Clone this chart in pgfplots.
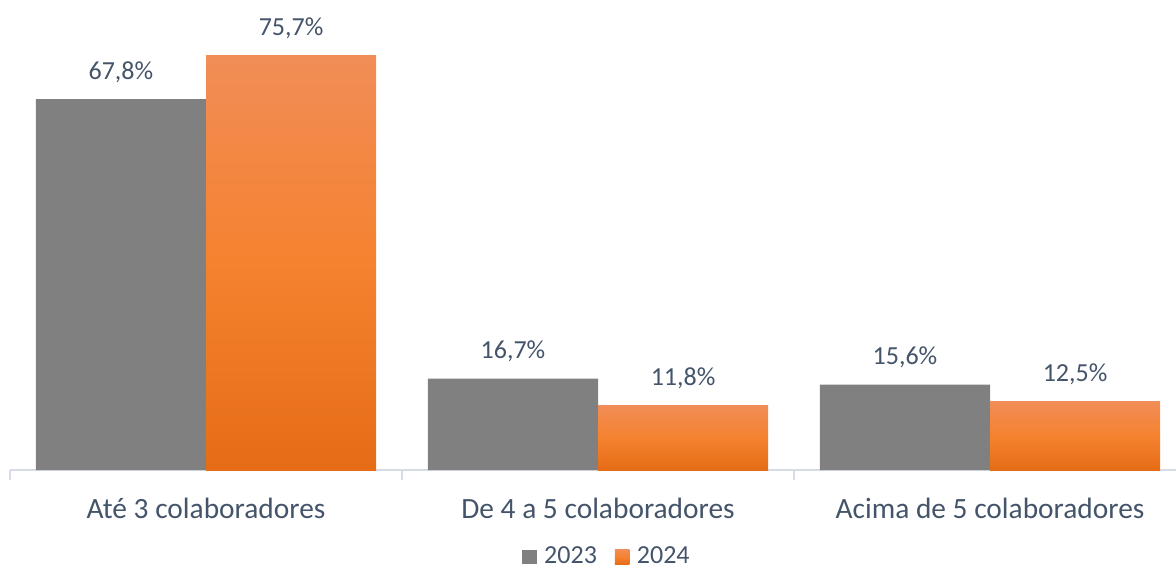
\documentclass[border=0pt]{standalone}
\usepackage{fontspec}
\setmainfont{Carlito}
\usepackage{pgfplots}
\pgfplotsset{compat=1.18}
\definecolor{txt}{HTML}{44546A}
\definecolor{axl}{HTML}{D6DCE5}
\definecolor{gbar}{HTML}{808080}
\definecolor{otop}{HTML}{F18D57}
\definecolor{omid}{HTML}{F5822F}
\definecolor{obot}{HTML}{E66C17}
\pgfdeclareverticalshading{orgrad}{100bp}{color(0bp)=(obot); color(25bp)=(obot); color(50bp)=(omid); color(75bp)=(otop); color(100bp)=(otop)}
\begin{document}
\begin{tikzpicture}
\path[use as bounding box] (-5pt,-49.5pt) rectangle (583pt,235pt);
\begin{axis}[
  scale only axis,
  width=583pt, height=235pt,
  xmin=-0.5, xmax=2.4745,
  ymin=0, ymax=85.92,
  ybar, bar width=0.434,
  axis x line*=bottom,
  axis y line=none,
  axis line style={draw=axl, line width=1.2pt},
  xtick={0,1,2},
  xticklabels={Até 3 colaboradores, De 4 a 5 colaboradores, Acima de 5 colaboradores},
  major tick length=0pt,
  minor xtick={-0.5,0.5,1.5,2.5},
  minor tick length=5pt,
  tick align=outside,
  minor tick style={draw=axl, line width=1pt},
  xticklabel style={font=\fontsize{14.7pt}{17pt}\selectfont, text=txt, anchor=base, yshift=-24pt},
  nodes near coords={\pgfmathprintnumber{\pgfplotspointmeta}\%},
  nodes near coords style={font=\fontsize{13pt}{15pt}\selectfont, text=txt, anchor=base, yshift=10pt,
     /pgf/number format/.cd, use comma, fixed, fixed zerofill, precision=1, assume math mode=true},
  clip=false,
  legend style={at={(0.5128,0)}, anchor=center, yshift=-43.5pt, draw=none, fill=none,
     font=\fontsize{13pt}{15pt}\selectfont, text=txt, legend columns=2,
     nodes={inner ysep=0.3pt},
     /tikz/every even column/.append style={column sep=7pt}},
  legend image code/.code={\path[#1,draw=none] (0pt,-3.7pt) rectangle (7.2pt,3.7pt); \path (9pt,0pt);},
]
\addplot[fill=gbar, draw=none, bar shift=-0.217] coordinates {(0,67.8) (1,16.7) (2,15.6)};
\addplot[draw=none, shading=orgrad, bar shift=0.217] coordinates {(0,75.7)};
\addplot[draw=none, shading=orgrad, bar shift=0.217, forget plot] coordinates {(1,11.8)};
\addplot[draw=none, shading=orgrad, bar shift=0.217, forget plot] coordinates {(2,12.5)};
\legend{2023,2024}
\end{axis}
\end{tikzpicture}
\end{document}
